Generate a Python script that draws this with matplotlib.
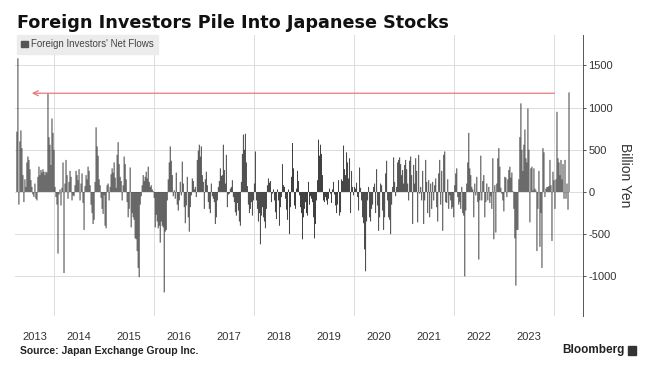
import numpy as np
import pandas as pd
import matplotlib
matplotlib.use("Agg")
import matplotlib.pyplot as plt
import matplotlib.dates as mdates
from matplotlib.patches import Patch, Rectangle

# weekly net flows of foreign investors, billion yen
flows_2013 = [715, 1584, -150, 600, 730, 520, 200, -120, 150, 60, 350, 420, 380, 270,
              140, 60, -30, -60, 100, -80, -100, 180, 300, 200, 260, 230, 270, 240,
              200, 240, 230, 1170, 650, 560, 320, 870, 700, 500, 60, -60, -150, -730,
              -30, 30, -160, 50, 350, -960, 100, 380, 200, -80, 120, 250, 180, -100,
              -40, -50, 80, 250, 200, 140, 270, -100, 100, 220, -130, -450, 70, 200,
              150, 300, 250, 80, -150, -250, -380]
flows_2014 = [-330, 120, 766, 540, 430, 150, 80, -70, -200, -260, -40, -400, -430, 80,
              100, -100, 60, 210, 280, 230, 350, 170, 50, 440, 590, 330, 180, 130,
              -100, 80, 420, 330, 150, -120, -300, -200, 290, -420, -250, -300, -330,
              -550, -560, -700, -900, -1010, -150, -50, 80, 200, 130, 180, 240, 160,
              300, 120, 60, 80, 30, 10, -70, -420, -270, -350, -430, -400, -600, -350,
              -400, -420, -1190, -470, -450, -100, 150, 350, 540, 370, 200, -50, 20]
flows_2016 = [-80, 230, -150, -220, -100, 120, -40, 360, 100, -180, -370, -160, 180,
              -300, -470, -180, -40, 160, 130, 30, 60, -60, 380, 490, 560, 420, 540,
              200, 120, -200, 150, 240, 80, -120, -200, -250, 100, -50, -80, -120,
              -380, -300, -100, 60, 130, 280, 190, 200, 560, 260, 100, 440, -180, -30,
              -20, 40, 60, 140, -60, -120, -240, -280, -130, -220, -350, -400, 120,
              450, 680, 500, 690, 350, 70, -150, -250, -200, -120, -280, -100, 100]
flows_2018 = [480, -100, -200, -350, -250, -620, -280, -180, -300, -350, -430, -200, 80,
              160, 110, 130, -120, -20, 30, -100, -240, -320, 30, -100, -400, -180,
              -60, 330, 80, 60, -80, -210, -330, 30, -500, -180, 180, 580, 280, -160,
              -200, 40, 250, 130, -40, -180, -250, -560, -300, -200, -120, -250, -280,
              120, -150, -50, -80, -120, -300, -550, -380, -100, 140, 620, 430, 560,
              450, 200, -100, -120, -60, -100, -150, -80, 40, -20, -130, 30, 120, -30]
flows_2019 = [-160, -250, -150, 140, -280, -240, 150, 130, 550, 270, 200, 470, 350, 160,
              400, -250, 250, 60, -40, 60, 40, 110, -60, -220, 290, 50, -100, -300,
              -370, -680, -940, -350, -100, 60, -300, -350, -200, -150, 60, 100, -250,
              270, -160, -460, -300, 100, 80, -220, -450, -300, 220, 370, -100, -300,
              -330, -500, -150, 60, 410, 120, -50, 60, 350, 380, 410, 330, 200, 260,
              100, 320, 380, 270, 100, -100, 370, 420, 200, -380, 320, 100]
flows_2021 = [400, 250, -360, 440, -20, 60, -100, 250, -380, -100, 380, 120, -250, 140,
              -300, 100, -200, 120, -100, 80, 160, -180, -350, 220, 380, -150, 250,
              -460, 440, 480, -120, -130, 150, -200, -40, -100, -200, -180, -300, 80,
              220, 280, -60, -150, -120, -200, 60, -250, -280, -1000, -220, 100, 350,
              700, 280, 200, 60, 30, -300, 100, -40, 180, -120, -800, -100, 430, -100,
              130, 200, -300, -120, 100, -100, 60, -130, -50, -200, 400, -560, 80]
flows_2023 = [-480, 100, 400, 520, 300, 50, -20, -100, -230, 180, 170, -60, 150, 260,
              300, 170, 230, 10, -200, -550, -1110, -450, -450, 150, 650, 1050, 500,
              250, 560, 740, 400, 350, 990, 500, -360, 280, 300, 20, 280, 40, 20, -700,
              -200, 250, -650, -250, -900, 520, 470, -60, 40, 60, 60, 70, 380, 80,
              -580, 240, 140, -200, 150, 950, 400, 350, 200, 380, 150, 330, -80, 380,
              -80, 100, -210, 1180]

first_week = "2013-04-05"
last_week = "2024-04-19"
x_start, x_end = "2013-03-22", "2024-07-28"
arrow_from, arrow_to, arrow_level = "2024-01-04", "2013-07-23", 1170
label_years = list(range(2013, 2024))
yticks = [-1000, -500, 0, 500, 1000, 1500]

flows = np.concatenate([flows_2013, flows_2014, flows_2016, flows_2018,
                        flows_2019, flows_2021, flows_2023])
dates = pd.date_range(first_week, last_week, periods=len(flows))

plt.rcParams["font.family"] = ["Liberation Sans", "DejaVu Sans"]

W, H = 646, 369
fig = plt.figure(figsize=(W / 100, H / 100), dpi=100)
ax = fig.add_axes([15 / W, 1 - 315.7 / H, 567.7 / W, 280.7 / H])

# snap=False so bars thinner than a pixel don't disappear
ax.bar(dates, flows, width=6.8, color="#333333", linewidth=0, zorder=3, snap=False)

ax.set_xlim(pd.Timestamp(x_start), pd.Timestamp(x_end))
ax.set_ylim(-1466, 1860)

# year labels in the middle of each year (2013 in the middle of its visible part)
left = mdates.date2num(pd.Timestamp(x_start))
pos = []
for y in label_years:
    a = max(mdates.date2num(pd.Timestamp(f"{y}-01-01")), left)
    b = mdates.date2num(pd.Timestamp(f"{y + 1}-01-01"))
    pos.append((a + b) / 2)
ax.set_xticks(pos)
ax.set_xticklabels([str(y) for y in label_years])
ax.xaxis.set_minor_locator(mdates.YearLocator(2))
ax.tick_params(axis="x", which="both", length=0, pad=12, labelsize=8, labelcolor="#333333")
ax.grid(axis="x", which="minor", color="#dcdcdc", lw=0.7, zorder=0)

ax.yaxis.tick_right()
ax.set_yticks(yticks)
ax.set_yticklabels([str(v) for v in yticks])
ax.tick_params(axis="y", length=2.5, width=0.7, color="#555555", pad=1.5,
               labelsize=8, labelcolor="#333333")
ax.grid(axis="y", color="#dcdcdc", lw=0.7, zorder=0)
ax.yaxis.set_label_position("right")
ax.set_ylabel("Billion Yen", rotation=270, fontsize=10, color="#333333", labelpad=11)

for s in ["top", "left", "bottom"]:
    ax.spines[s].set_visible(False)
ax.spines["right"].set_color("#555555")
ax.spines["right"].set_linewidth(0.7)

ax.annotate("", xy=(pd.Timestamp(arrow_to), arrow_level),
            xytext=(pd.Timestamp(arrow_from), arrow_level),
            arrowprops=dict(arrowstyle="->", color="#e8797d", lw=0.9,
                            mutation_scale=9, shrinkA=0, shrinkB=0), zorder=4)

leg = ax.legend(handles=[Patch(color="#555555", label="Foreign Investors' Net Flows")],
                loc="upper left", bbox_to_anchor=(0.003, 1.0), borderaxespad=0,
                fontsize=7, frameon=True, fancybox=False, facecolor="#ececec",
                edgecolor="#ececec", framealpha=1, handlelength=0.7, handleheight=0.7,
                handletextpad=0.3, borderpad=0.45)
for t in leg.get_texts():
    t.set_color("#444444")

fig.text(17 / W, 1 - 28.3 / H, "Foreign Investors Pile Into Japanese Stocks",
         fontsize=12.7, fontweight="bold", va="baseline", ha="left", color="#111111",
         family="DejaVu Sans")
fig.text(20 / W, 1 - 351 / H, "Source: Japan Exchange Group Inc.",
         fontsize=7.5, fontweight="bold", va="center", ha="left", color="#222222")
fig.text(625 / W, 1 - 350 / H, "Bloomberg", fontsize=8.5, fontweight="bold",
         va="center", ha="right", color="#222222")
fig.patches.append(Rectangle((627.5 / W, 1 - 355 / H), 8 / W, 9 / H,
                             transform=fig.transFigure, color="#333333"))

fig.savefig("out.png", dpi=100, facecolor="white")
